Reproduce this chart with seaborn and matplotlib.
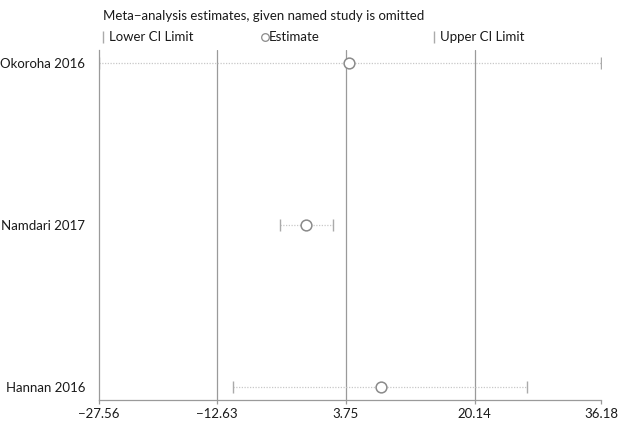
import matplotlib
matplotlib.use("Agg")
import matplotlib.pyplot as plt
from matplotlib.lines import Line2D
import seaborn as sns
import pandas as pd

studies = ["Okoroha 2016", "Namdari 2017", "Hannan 2016"]
estimate = [4.18, -1.28, 8.21]
lower = [-27.56, -4.58, -10.55]
upper = [36.18, 2.15, 26.78]
xticks = [-27.56, -12.63, 3.75, 20.14, 36.18]

df = pd.DataFrame({"study": studies, "est": estimate, "lo": lower, "hi": upper})
df["pos"] = range(1, len(df) + 1)

sns.set_style("white")
plt.rcParams["font.family"] = ["Lato", "DejaVu Sans"]
plt.rcParams["text.color"] = "#1a1a1a"
FS = 9.5

fig = plt.figure(figsize=(6.2, 4.22), dpi=100)
ax = fig.add_axes([99 / 620, 22 / 422, 502 / 620, 350 / 422])

grey = "#9a9a9a"
for xv in xticks[1:-1]:
    ax.axvline(xv, color=grey, lw=0.9, zorder=0)

ax.hlines(df["pos"], df["lo"], df["hi"], color="#c8c8c8", lw=0.9, linestyles=(0, (1, 1.2)), zorder=1)
sns.scatterplot(data=df, x="lo", y="pos", marker="|", s=80, color="#aaaaaa", linewidth=1.0, ax=ax, zorder=2)
sns.scatterplot(data=df, x="hi", y="pos", marker="|", s=80, color="#aaaaaa", linewidth=1.0, ax=ax, zorder=2)
sns.scatterplot(data=df, x="est", y="pos", marker="o", s=60, facecolor="white", edgecolor="#8a8a8a", linewidth=1.1, ax=ax, zorder=3)

ax.set_xlim(xticks[0], xticks[-1])
ax.set_ylim(3.08, 0.92)
ax.set_xticks(xticks)
ax.set_xticklabels([f"{v:.2f}".replace("-", "\u2212") for v in xticks], fontsize=FS, color="#1a1a1a")
ax.set_yticks(df["pos"])
ax.set_yticklabels(df["study"], fontsize=FS, color="#1a1a1a")
ax.tick_params(axis="x", length=3, width=0.9, color=grey, pad=3, direction="out", bottom=True)
ax.tick_params(axis="y", length=0, pad=10)
ax.set_xlabel("")
ax.set_ylabel("")
for side in ["top", "right"]:
    ax.spines[side].set_visible(False)
for side in ["left", "bottom"]:
    ax.spines[side].set_color(grey)
    ax.spines[side].set_linewidth(0.9)

y_leg = 1 - 37 / 422
fig.text(103 / 620, 1 - 16 / 422, "Meta\u2212analysis estimates, given named study is omitted", fontsize=FS, va="center", ha="left")
fig.add_artist(Line2D([103 / 620], [y_leg], marker="|", markersize=8, color="#aaaaaa", mew=1.0, transform=fig.transFigure))
fig.text(109 / 620, y_leg, "Lower CI Limit", fontsize=FS, va="center", ha="left")
fig.add_artist(Line2D([265 / 620], [y_leg], marker="o", markersize=5.5, mfc="white", mec="#8a8a8a", mew=0.9, transform=fig.transFigure))
fig.text(269 / 620, y_leg, "Estimate", fontsize=FS, va="center", ha="left")
fig.add_artist(Line2D([434 / 620], [y_leg], marker="|", markersize=8, color="#aaaaaa", mew=1.0, transform=fig.transFigure))
fig.text(440 / 620, y_leg, "Upper CI Limit", fontsize=FS, va="center", ha="left")

fig.savefig("out.png", dpi=100)
